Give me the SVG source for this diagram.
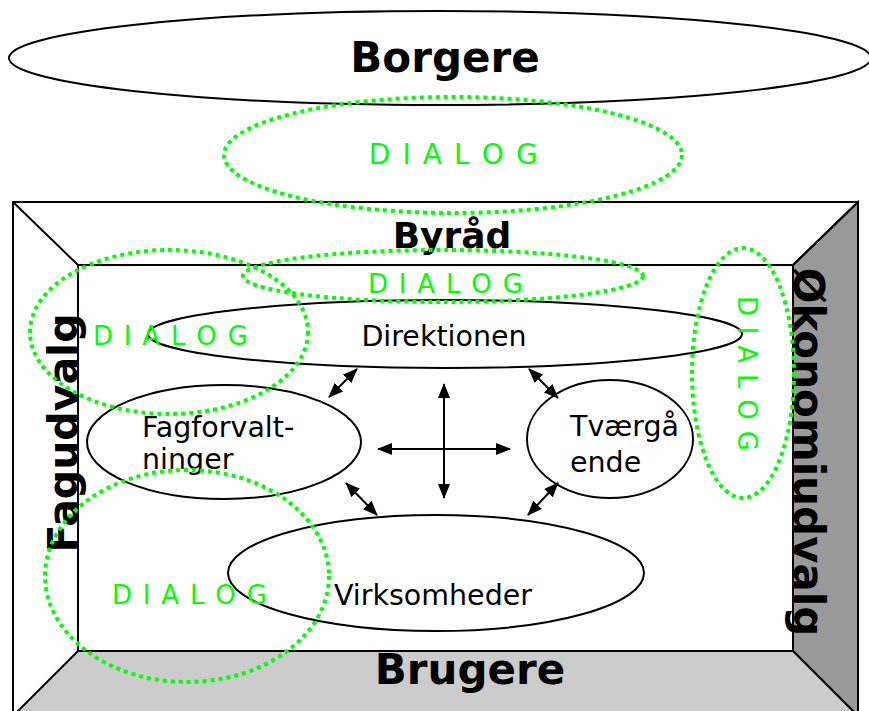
<svg xmlns="http://www.w3.org/2000/svg" width="869" height="711" viewBox="0 0 869 711">
<style>
.ln{fill:none;stroke:#000;stroke-width:2}
.dot{fill:none;stroke:#00ff00;stroke-width:4;stroke-dasharray:4 4}
.bold{font-family:"DejaVu Sans",Verdana,sans-serif;font-weight:bold;fill:#000;text-anchor:middle}
.norm{font-family:"DejaVu Sans",Verdana,sans-serif;font-size:28.5px;fill:#000}
.dlg{font-family:"DejaVu Sans",Verdana,sans-serif;font-size:26px;fill:#00ff00;text-anchor:middle;letter-spacing:1.3px}
.arr{fill:none;stroke:#000;stroke-width:2;marker-start:url(#ah);marker-end:url(#ah)}
</style>
<defs>
<marker id="ah" viewBox="0 0 15 12" refX="14" refY="6" markerWidth="15" markerHeight="12" markerUnits="userSpaceOnUse" orient="auto-start-reverse">
<path d="M0,0 L15,6 L0,12 Z" fill="#000"/>
</marker>
</defs>
<rect width="869" height="711" fill="#fff"/>
<g id="frame">
<polygon points="858,202 793,265 793,651 858,716" fill="#999999" stroke="#000" stroke-width="2"/>
<polygon points="78,651 793,651 858,716 13,716" fill="#cccccc" stroke="#000" stroke-width="2"/>
<rect x="13" y="202" width="845" height="514" class="ln"/>
<rect x="78" y="265" width="715" height="386" class="ln"/>
<line x1="13" y1="202" x2="78" y2="265" class="ln"/>
<line x1="858" y1="202" x2="793" y2="265" class="ln"/>
</g>
<g id="borgere">
<ellipse cx="440" cy="58" rx="431" ry="47" class="ln"/>
<text x="445" y="72" class="bold" font-size="42">Borgere</text>
</g>
<g id="byraad"><text x="452" y="248" class="bold" font-size="36">Byråd</text></g>
<g id="brugere"><text x="470" y="684" class="bold" font-size="42">Brugere</text></g>
<g id="fagudvalg"><text transform="translate(77,433) rotate(-90)" class="bold" font-size="41">Fagudvalg</text></g>
<g id="okonomiudvalg"><text transform="translate(794,452) rotate(90)" class="bold" font-size="42">Økonomiudvalg</text></g>
<g id="direktionen">
<ellipse cx="445" cy="334" rx="297" ry="34" class="ln"/>
<text x="444" y="346" class="norm" text-anchor="middle">Direktionen</text>
</g>
<g id="fagforvaltninger">
<ellipse cx="224" cy="442" rx="137" ry="57" class="ln"/>
<text x="142" y="437" class="norm">Fagforvalt-</text>
<text x="142" y="469" class="norm">ninger</text>
</g>
<g id="tvaergaaende">
<ellipse cx="610" cy="439" rx="83" ry="59" class="ln"/>
<text x="570" y="436" class="norm">Tværgå</text>
<text x="570" y="472" class="norm">ende</text>
</g>
<g id="virksomheder">
<ellipse cx="436" cy="573" rx="208" ry="58" class="ln"/>
<text x="334" y="605" class="norm">Virksomheder</text>
</g>
<g id="connectors">
<line x1="444" y1="384" x2="444" y2="498" class="arr"/>
<line x1="378" y1="449" x2="510" y2="449" class="arr"/>
<line x1="357" y1="369" x2="329" y2="397" class="arr"/>
<line x1="529" y1="369" x2="558" y2="398" class="arr"/>
<line x1="346" y1="483" x2="377" y2="515" class="arr"/>
<line x1="558" y1="483" x2="528" y2="515" class="arr"/>
</g>
<g id="dialog-top">
<ellipse cx="453" cy="155" rx="229" ry="58" class="dot"/>
<text x="454" y="164" class="dlg" style="font-size:28px;letter-spacing:1.6px">D I A L O G</text>
</g>
<g id="dialog-byraad">
<ellipse cx="443" cy="276" rx="200" ry="26" class="dot"/>
<text x="446" y="293" class="dlg">D I A L O G</text>
</g>
<g id="dialog-left">
<ellipse cx="169" cy="332" rx="139" ry="82" class="dot"/>
<text x="171" y="345" class="dlg">D I A L O G</text>
</g>
<g id="dialog-right">
<ellipse cx="743" cy="373" rx="51" ry="125" class="dot"/>
<text transform="translate(738,374) rotate(90)" class="dlg">D I A L O G</text>
</g>
<g id="dialog-bottom">
<ellipse cx="187" cy="576" rx="142" ry="106" class="dot"/>
<text x="190" y="604" class="dlg">D I A L O G</text>
</g>
</svg>
